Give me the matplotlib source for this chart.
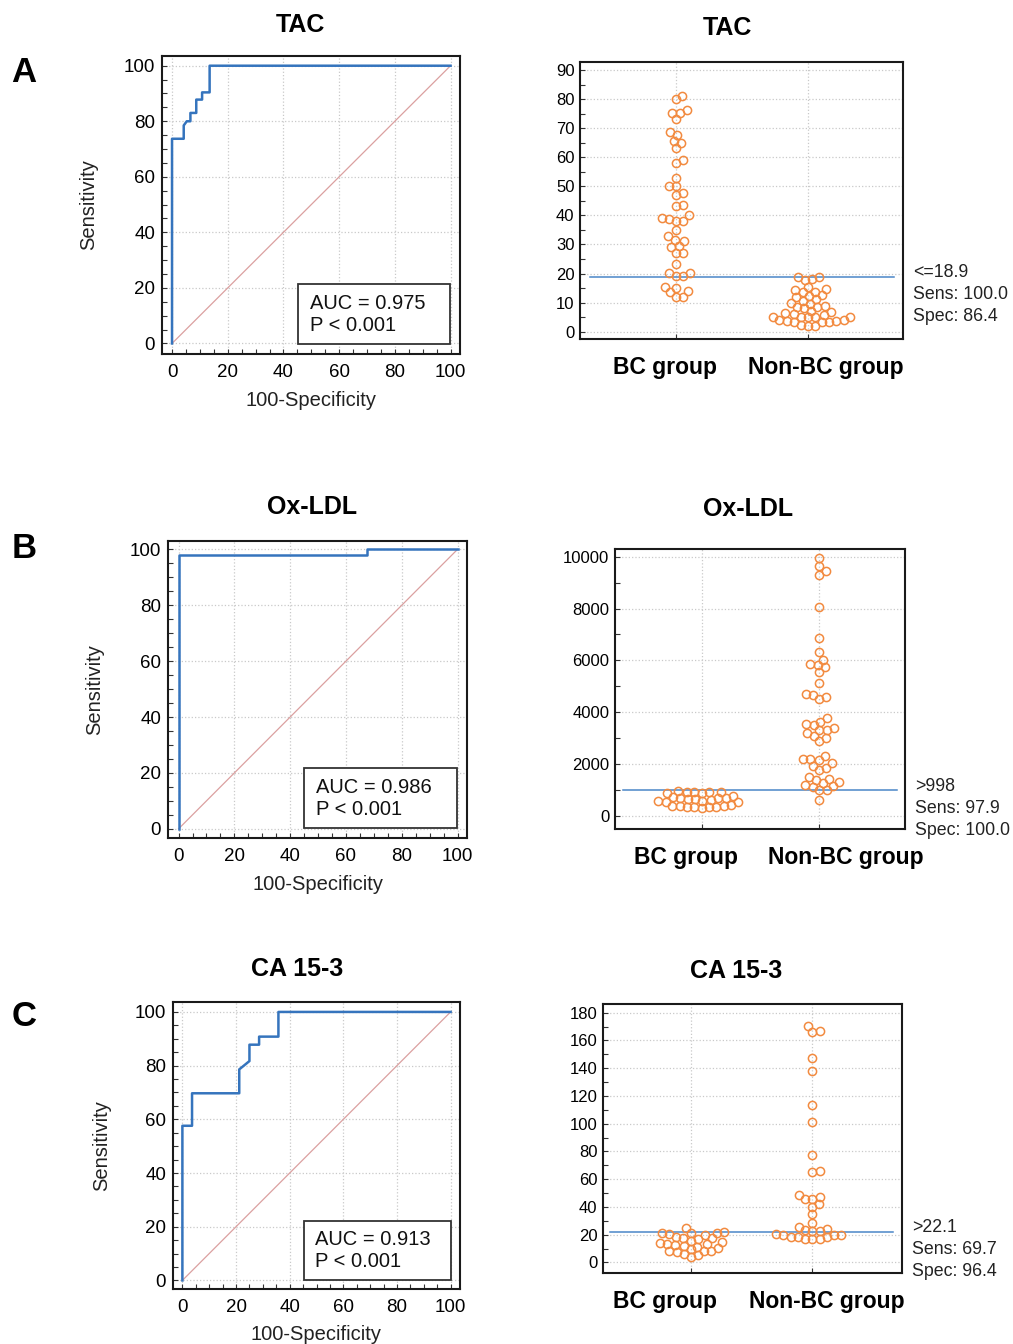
import numpy as np
import matplotlib
matplotlib.use("Agg")
import matplotlib.pyplot as plt
from matplotlib.patches import Rectangle
from matplotlib.ticker import MultipleLocator
from matplotlib.transforms import ScaledTranslation

plt.rcParams["font.family"] = ["Liberation Sans", "DejaVu Sans"]

# ROC curves (100-Specificity, Sensitivity)
tac_fpr = [0, 0, 4.2, 4.2, 5.3, 6.6, 6.6, 8.7, 8.7, 10.8, 10.8, 13.5, 13.5, 100]
tac_sens = [0, 73.7, 73.7, 78.5, 80.0, 80.0, 83.0, 83.0, 87.8, 87.8, 90.4, 90.4, 100, 100]
ox_fpr = [0, 0, 67.7, 67.7, 100]
ox_sens = [0, 97.9, 97.9, 100, 100]
ca_fpr = [0, 0, 3.6, 3.6, 21.2, 21.2, 25.0, 25.0, 28.6, 28.6, 35.8, 35.8, 100]
ca_sens = [0, 57.6, 57.6, 69.7, 69.7, 78.6, 81.7, 87.8, 87.8, 90.8, 90.8, 100, 100]
auc_text = ["AUC = 0.975\nP < 0.001", "AUC = 0.986\nP < 0.001", "AUC = 0.913\nP < 0.001"]

# dot plot values
groups = ["BC group", "Non-BC group"]
tac_bc = [81.2, 80.0, 76.3, 75.1, 75.1, 73.0, 68.6, 67.8, 65.6, 65.0, 63.2, 58.9, 58.1,
          53.0, 50.1, 50.1, 47.6, 47.0, 43.6, 43.2, 40.0, 39.0, 38.8, 38.2, 38.0, 35.0,
          32.9, 31.5, 31.3, 29.5, 29.2, 27.2, 27.2, 23.3, 20.3, 20.1, 19.3, 19.2, 15.5,
          14.9, 14.1, 13.5, 12.0, 12.0]
tac_non = [18.8, 18.7, 17.8, 18.0, 15.5, 13.8, 13.8, 14.3, 14.8, 11.8, 12.3, 12.7, 9.7,
           10.0, 10.7, 11.1, 8.0, 8.6, 8.6, 8.8, 6.3, 6.8, 7.2, 4.9, 4.9, 4.9, 5.2, 5.2,
           5.8, 6.1, 3.4, 3.4, 3.4, 3.8, 3.8, 4.0, 4.0, 2.1, 2.1, 2.3]
ox_bc = [296, 580, 785, 345, 682, 913, 553, 360, 939, 690, 372, 945, 617, 380, 930,
         707, 355, 964, 656, 365, 874, 640, 399, 880, 560, 424, 746, 540]
ox_non = [9941, 9645, 9452, 9298, 8076, 6854, 6340, 6019, 5851, 5826, 5736, 5543, 5144,
          4707, 4668, 4604, 4501, 3768, 3640, 3537, 3511, 3382, 3318, 3318, 3189, 3099,
          2996, 2893, 2328, 2199, 2160, 2199, 2032, 1942, 1865, 1775, 1517, 1427, 1389,
          1300, 1260, 1196, 1170, 1132, 1010, 1005, 617]
ca_bc = [24.5, 19.7, 21.1, 20.6, 21.1, 21.1, 21.6, 15.8, 16.8, 17.3, 17.3, 18.2, 12.5,
         11.5, 13.0, 13.4, 13.9, 14.6, 8.2, 7.4, 8.2, 8.2, 3.8, 5.3, 12.0, 10.3, 9.5, 6.0]
ca_non = [170.4, 166.1, 166.5, 147.1, 138.0, 113.5, 101.5, 77.5, 65.0, 66.2, 46.1, 46.1,
          47.5, 48.7, 42.2, 40.3, 34.8, 28.3, 24.0, 25.9, 23.5, 22.4, 22.6, 19.7, 19.7,
          20.2, 19.7, 18.7, 18.7, 16.8, 16.8, 16.8, 18.2]
cutoffs = [18.9, 998, 22.1]
cut_text = ["<=18.9\nSens: 100.0\nSpec: 86.4", ">998\nSens: 97.9\nSpec: 100.0",
            ">22.1\nSens: 69.7\nSpec: 96.4"]
titles = ["TAC", "Ox-LDL", "CA 15-3"]

W, H = 1013, 1344
fig = plt.figure(figsize=(W / 100, H / 100), dpi=100)


def px_axes(l, t, r, b):
    return fig.add_axes([l / W, 1 - b / H, (r - l) / W, (b - t) / H])


def px_text(x, y, s, **kw):
    fig.text(x / W, 1 - y / H, s, ha="center", va="center", **kw)


def style(ax, fs):
    for sp in ax.spines.values():
        sp.set_linewidth(1.5)
        sp.set_color("#1a1a1a")
    ax.tick_params(which="both", direction="in", length=3.3, width=0.8,
                   labelsize=fs, color="#333333")
    ax.set_axisbelow(True)


def swarm(ax, xc, vals, d=7.4):
    pts = ax.transData.transform(np.column_stack([np.full(len(vals), xc), vals]))
    ys = pts[:, 1]
    x0 = pts[0, 0]
    dx = np.zeros(len(vals))
    placed = []
    for i in np.argsort(ys):
        y = ys[i]
        near = [(px, py) for px, py in placed if abs(py - y) < d]
        cands = [0.0]
        for px, py in near:
            h = np.sqrt(d * d - (py - y) ** 2)
            cands += [px + h, px - h]
        cands.sort(key=abs)
        for c in cands:
            if all((c - px) ** 2 + (y - py) ** 2 >= d * d - 1e-6 for px, py in near):
                break
        dx[i] = c
        placed.append((c, y))
    return ax.transData.inverted().transform(np.column_stack([x0 + dx, ys]))[:, 0]


# ROC panels
roc_boxes = [(162, 56, 460, 354), (168, 541, 467, 838), (173, 1002, 460, 1289)]
roc_lims = [((-3.6, 103.4), (-3.8, 103.5)), ((-3.8, 103.4), (-3.3, 103.0)),
            ((-3.5, 103.5), (-3.2, 103.7))]
roc_data = [(tac_fpr, tac_sens), (ox_fpr, ox_sens), (ca_fpr, ca_sens)]
roc_titles = [(300, 25), (312, 507), (297, 969)]
for k in range(3):
    ax = px_axes(*roc_boxes[k])
    style(ax, 13.5)
    ax.set_xlim(*roc_lims[k][0])
    ax.set_ylim(*roc_lims[k][1])
    ax.xaxis.set_major_locator(MultipleLocator(20))
    ax.yaxis.set_major_locator(MultipleLocator(20))
    ax.xaxis.set_minor_locator(MultipleLocator(5))
    ax.yaxis.set_minor_locator(MultipleLocator(5))
    ax.tick_params(axis="y", pad=5)
    ax.tick_params(axis="x", pad=7)
    ax.grid(True, which="major", color="#c9c9c9", linestyle=":", linewidth=0.9)
    ax.plot([0, 100], [0, 100], color="#dba0a0", linewidth=0.9)
    ax.plot(roc_data[k][0], roc_data[k][1], color="#3574bd", linewidth=1.8)
    ax.add_patch(Rectangle((0.455, 0.032), 0.512, 0.204, transform=ax.transAxes,
                           facecolor="white", edgecolor="#333333", linewidth=1.3, zorder=5))
    ax.text(0.495, 0.134, auc_text[k], transform=ax.transAxes, fontsize=14.5,
            va="center", ha="left", linespacing=1.2, zorder=6, color="#111111")
    ax.set_xlabel("100-Specificity", fontsize=14.5, color="#222222")
    ax.set_ylabel("Sensitivity", fontsize=14.5, color="#222222")
    ax.xaxis.set_label_coords(0.5, -0.125)
    ax.yaxis.set_label_coords(-0.215, 0.5)
    px_text(*roc_titles[k], titles[k], fontsize=18, fontweight="bold")

for (x, y), s in zip([(24, 73), (24, 549), (24, 1017)], ["A", "B", "C"]):
    px_text(x, y, s, fontsize=25, fontweight="bold")

# dot plots
dot_boxes = [(580, 62, 903, 339), (615, 549, 905, 829), (603, 1004, 902, 1273)]
dot_xlims = [(0.273, 2.72), (0.263, 2.729), (0.281, 2.735)]
dot_ylims = [(-2.5, 92.75), (-501, 10297), (-7.6, 186.3)]
dot_major = [10, 2000, 20]
dot_minor = [5, 1000, 10]
dot_data = [(tac_bc, tac_non), (ox_bc, ox_non), (ca_bc, ca_non)]
cut_span = [(0.031, 0.972), (0.028, 0.971), (0.025, 0.97)]
dot_titles = [(727, 28), (748, 509), (736, 971)]
label_shift = [(-11, 18), (-16, 27), (-26, 14)]
for k in range(3):
    ax = px_axes(*dot_boxes[k])
    style(ax, 12)
    ax.set_xlim(*dot_xlims[k])
    ax.set_ylim(*dot_ylims[k])
    ax.yaxis.set_major_locator(MultipleLocator(dot_major[k]))
    ax.yaxis.set_minor_locator(MultipleLocator(dot_minor[k]))
    ax.set_xticks([1, 2])
    ax.set_xticklabels(groups, fontsize=16.5, fontweight="bold")
    ax.tick_params(axis="x", pad=12)
    ax.tick_params(axis="y", pad=4)
    ax.grid(True, which="major", color="#c9c9c9", linestyle=":", linewidth=0.9)
    for lbl, dx in zip(ax.get_xticklabels(), label_shift[k]):
        lbl.set_transform(lbl.get_transform() + ScaledTranslation(dx / 100, 0, fig.dpi_scale_trans))
    for j, vals in enumerate(dot_data[k]):
        xs = swarm(ax, j + 1, vals)
        ax.plot(xs, vals, linestyle="none", marker="o", markersize=5.9,
                markerfacecolor="none", markeredgecolor="#f28a3f", markeredgewidth=1.1,
                zorder=3)
    ax.axhline(cutoffs[k], xmin=cut_span[k][0], xmax=cut_span[k][1], color="#4a86c8",
               linewidth=1.1, zorder=2)
    ax.annotate(cut_text[k], xy=(1.0, cutoffs[k]), xycoords=("axes fraction", "data"),
                xytext=(7.5, 9), textcoords="offset points", fontsize=12.8,
                va="top", ha="left", linespacing=1.38, color="#222222",
                annotation_clip=False)
    px_text(*dot_titles[k], titles[k], fontsize=18, fontweight="bold")

fig.savefig("out.png", dpi=100)
